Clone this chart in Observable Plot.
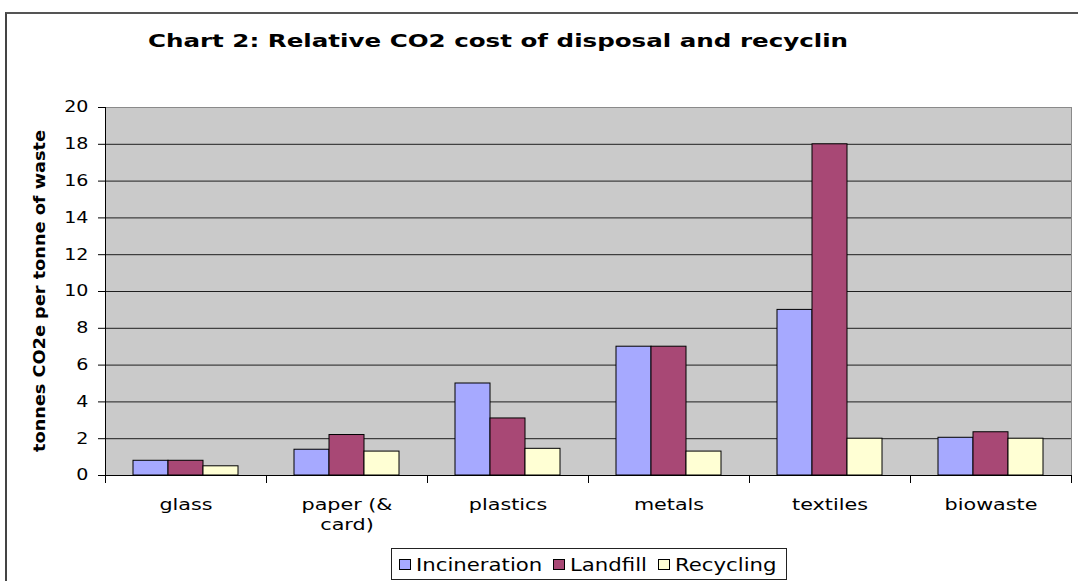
<!DOCTYPE html>
<html>
<head>
<meta charset="utf-8">
<script src="https://cdn.jsdelivr.net/npm/d3@7"></script>
<script src="https://cdn.jsdelivr.net/npm/@observablehq/plot@0.6"></script>
<style>
  html, body { margin: 0; padding: 0; background: #fff; overflow: hidden; }
  #chart { position: relative; width: 1078px; height: 581px; font-family: "DejaVu Sans", Verdana, sans-serif; color: #000; overflow: hidden; }
  #border { position: absolute; left: 5px; top: 12px; width: 1200px; height: 700px; box-sizing: border-box; border-left: 2px solid #444; border-top: 2px solid #555; }
  #plot { position: absolute; left: 0; top: 0; }
  #title { position: absolute; left: 0; top: 33px; width: 996px; text-align: center; font-weight: bold; font-size: 17px; line-height: 17px; white-space: nowrap; transform-origin: 498px 50%; }
  #ylabel { position: absolute; left: 39.5px; top: 291px; font-weight: bold; font-size: 16.5px; line-height: 16.5px; white-space: nowrap; }
  #legend { position: absolute; left: 391px; top: 548px; width: 396px; height: 32px; box-sizing: border-box; border: 1px solid #222; display: flex; align-items: center; padding-left: 7px; font-size: 18px; background: #fff; }
  #legend .item { display: flex; align-items: center; margin-right: 11px; }
  #legend .swatch { width: 12px; height: 11px; box-sizing: border-box; border: 1px solid #000; margin-right: 5px; }
  #legend .lab { display: inline-block; }
  #legend .stretch { display: inline-block; white-space: nowrap; transform-origin: 0 50%; }
</style>
</head>
<body>
<div id="chart">
  <div id="border"></div>
  <div id="plot"></div>
  <div id="title"></div>
  <div id="ylabel"></div>
  <div id="legend"></div>
</div>
<script>
// Chart data
const categories = ["glass", "paper (& card)", "plastics", "metals", "textiles", "biowaste"];
const categoryLabels = ["glass", "paper (&\ncard)", "plastics", "metals", "textiles", "biowaste"];
const series = ["Incineration", "Landfill", "Recycling"];
const incineration = [0.8, 1.4, 5.0, 7.0, 9.0, 2.05];
const landfill = [0.8, 2.2, 3.1, 7.0, 18.0, 2.35];
const recycling = [0.5, 1.3, 1.45, 1.3, 2.0, 2.0];
const yTicks = [0, 2, 4, 6, 8, 10, 12, 14, 16, 18, 20];
const seriesColors = ["#A6A9FF", "#A84875", "#FFFFD4"];
const titleText = "Chart 2: Relative CO2 cost of disposal and recyclin";
const yLabelText = "tonnes CO2e per tonne of waste";

// Long table for the grouped bars
const values = [incineration, landfill, recycling];
const rows = categories.flatMap((c, i) =>
  series.map((s, j) => ({category: c, series: s, value: values[j][i]}))
);
const labelOf = new Map(categories.map((c, i) => [c, categoryLabels[i]]));

const W = 1078, H = 581;
const mTop = 107, mBottom = 106, mLeft = 103, mRight = 6;
const innerH = H - mTop - mBottom;

const chart = Plot.plot({
  width: W,
  height: H,
  marginTop: mTop,
  marginBottom: mBottom,
  marginLeft: mLeft,
  marginRight: mRight,
  style: {fontFamily: '"DejaVu Sans", Verdana, sans-serif', background: "transparent", color: "#000"},
  fx: {domain: categories, padding: 0, label: null},
  x: {domain: series, paddingInner: 0, paddingOuter: 0.75, axis: null, label: null},
  y: {domain: [0, 20], label: null},
  color: {domain: series, range: seriesColors},
  marks: [
    // plot area background and outline
    Plot.frame({fill: "#CACACA", stroke: "#8A8A8A", facet: "super"}),
    // horizontal gridlines
    Plot.ruleY(yTicks.filter(v => v > 0 && v < 20), {stroke: "#1e1e1e"}),
    // bars
    Plot.barY(rows, {fx: "category", x: "series", y: "value", fill: "series", stroke: "#000", strokeWidth: 1}),
    // category axis line and boundary ticks
    Plot.ruleY([0], {stroke: "#000"}),
    Plot.frame({anchor: "left", stroke: "#000", insetTop: innerH, insetBottom: -7}),
    Plot.frame({anchor: "right", stroke: "#000", insetTop: innerH, insetBottom: -7, facet: "super"}),
    // value axis line
    Plot.frame({anchor: "left", stroke: "#000", facet: "super"}),
    Plot.axisY({ticks: yTicks, tickSize: 7, tickPadding: 10, fontSize: 15.5, label: null}),
    Plot.axisFx({anchor: "bottom", tickSize: 0, tickPadding: 21, fontSize: 15, lineHeight: 1.3, tickFormat: d => labelOf.get(d), label: null})
  ]
});
document.getElementById("plot").append(chart);

// Widen text horizontally (wide Verdana-style lettering)
function widen(selector, k) {
  for (const t of chart.querySelectorAll(selector)) {
    const parts = t.querySelectorAll("tspan");
    for (const el of (parts.length ? parts : [t])) {
      const w = el.getComputedTextLength();
      el.setAttribute("textLength", (w * k).toFixed(2));
      el.setAttribute("lengthAdjust", "spacingAndGlyphs");
    }
  }
}
widen('g[aria-label="y-axis tick label"] text', 1.23);
widen('g[aria-label="fx-axis tick label"] text', 1.38);

// Title
const title = document.getElementById("title");
title.textContent = titleText;
title.style.transform = "scaleX(1.444)";

// Y axis title
const ylabel = document.getElementById("ylabel");
ylabel.textContent = yLabelText;
ylabel.style.transform = "translate(-50%, -50%) rotate(-90deg) scaleX(1.073)";

// Legend
const legend = document.getElementById("legend");
series.forEach((s, i) => {
  const item = document.createElement("span");
  item.className = "item";
  const sw = document.createElement("span");
  sw.className = "swatch";
  sw.style.background = seriesColors[i];
  const lab = document.createElement("span");
  lab.className = "lab";
  const inner = document.createElement("span");
  inner.className = "stretch";
  inner.textContent = s;
  lab.append(inner);
  item.append(sw, lab);
  legend.append(item);
});
const K = 1.18;
for (const lab of legend.querySelectorAll(".lab")) {
  const inner = lab.firstChild;
  const w = inner.getBoundingClientRect().width;
  lab.style.width = `${w * K}px`;
  inner.style.transform = `scaleX(${K})`;
}
</script>
</body>
</html>
